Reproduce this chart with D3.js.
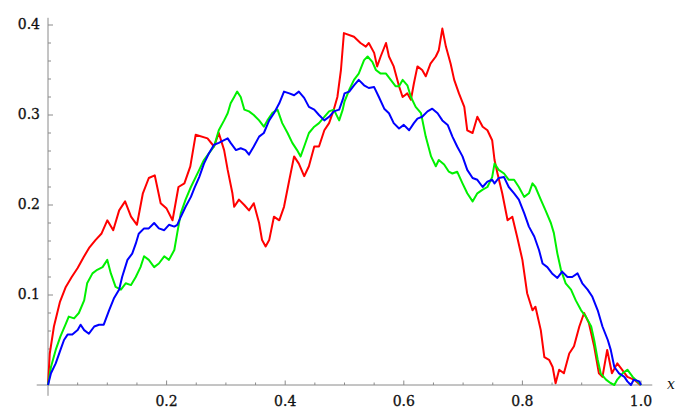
<!DOCTYPE html>
<meta charset="utf-8">
<body style="margin:0;background:#fff">
<svg width="677" height="409"></svg>
<script src="https://cdn.jsdelivr.net/npm/d3@7"></script>
<script>
// three paths, [x, y]
const redPath = [[0,0],[0.003,0.035],[0.01,0.065],[0.02,0.092],[0.03,0.109],[0.04,0.12],[0.05,0.13],[0.06,0.142],[0.07,0.153],[0.08,0.161],[0.09,0.168],[0.1,0.183],[0.11,0.172],[0.12,0.194],[0.13,0.204],[0.14,0.187],[0.15,0.178],[0.16,0.213],[0.17,0.23],[0.18,0.233],[0.19,0.202],[0.2,0.196],[0.21,0.183],[0.22,0.22],[0.23,0.224],[0.24,0.243],[0.249,0.278],[0.269,0.274],[0.28,0.265],[0.288,0.28],[0.297,0.261],[0.303,0.239],[0.311,0.213],[0.314,0.198],[0.322,0.206],[0.331,0.2],[0.339,0.194],[0.347,0.202],[0.356,0.18],[0.361,0.161],[0.367,0.154],[0.373,0.161],[0.381,0.187],[0.39,0.183],[0.398,0.198],[0.407,0.228],[0.415,0.254],[0.423,0.246],[0.432,0.232],[0.44,0.243],[0.449,0.265],[0.457,0.265],[0.466,0.283],[0.474,0.291],[0.482,0.306],[0.488,0.32],[0.494,0.35],[0.499,0.391],[0.516,0.387],[0.527,0.38],[0.536,0.376],[0.541,0.38],[0.55,0.369],[0.555,0.354],[0.561,0.365],[0.57,0.38],[0.575,0.365],[0.583,0.354],[0.592,0.332],[0.598,0.32],[0.606,0.324],[0.612,0.317],[0.617,0.335],[0.623,0.354],[0.631,0.35],[0.637,0.343],[0.645,0.357],[0.654,0.365],[0.659,0.372],[0.665,0.396],[0.671,0.376],[0.679,0.357],[0.685,0.339],[0.693,0.324],[0.702,0.309],[0.707,0.283],[0.716,0.28],[0.724,0.298],[0.733,0.287],[0.741,0.283],[0.749,0.272],[0.753,0.25],[0.758,0.235],[0.766,0.213],[0.775,0.183],[0.783,0.187],[0.791,0.165],[0.8,0.139],[0.808,0.102],[0.817,0.083],[0.822,0.087],[0.831,0.061],[0.837,0.031],[0.845,0.028],[0.851,0.02],[0.856,0.002],[0.862,0.017],[0.87,0.013],[0.879,0.035],[0.887,0.043],[0.896,0.065],[0.904,0.08],[0.912,0.069],[0.921,0.043],[0.929,0.013],[0.935,0.009],[0.943,0.039],[0.951,0.013],[0.96,0.024],[0.968,0.017],[0.977,0.009],[0.988,0.006],[0.999,0]]

const greenPath = [[0,0],[0.005,0.02],[0.013,0.039],[0.021,0.054],[0.03,0.068],[0.035,0.076],[0.044,0.074],[0.052,0.08],[0.061,0.094],[0.066,0.113],[0.075,0.124],[0.083,0.128],[0.092,0.131],[0.1,0.139],[0.106,0.124],[0.114,0.109],[0.123,0.106],[0.131,0.113],[0.14,0.111],[0.148,0.12],[0.156,0.131],[0.162,0.143],[0.17,0.139],[0.179,0.131],[0.187,0.135],[0.196,0.143],[0.204,0.139],[0.213,0.15],[0.218,0.169],[0.224,0.191],[0.232,0.206],[0.241,0.22],[0.255,0.239],[0.263,0.25],[0.271,0.257],[0.28,0.265],[0.288,0.283],[0.297,0.294],[0.303,0.302],[0.308,0.313],[0.314,0.32],[0.319,0.326],[0.325,0.32],[0.331,0.306],[0.339,0.304],[0.347,0.3],[0.356,0.294],[0.364,0.287],[0.37,0.294],[0.378,0.302],[0.387,0.306],[0.395,0.291],[0.404,0.28],[0.412,0.269],[0.42,0.261],[0.426,0.254],[0.432,0.265],[0.44,0.28],[0.449,0.287],[0.457,0.291],[0.466,0.298],[0.474,0.304],[0.482,0.306],[0.491,0.294],[0.497,0.306],[0.5,0.315],[0.508,0.328],[0.516,0.339],[0.524,0.346],[0.533,0.361],[0.539,0.365],[0.547,0.359],[0.553,0.35],[0.561,0.346],[0.57,0.346],[0.578,0.339],[0.586,0.332],[0.592,0.332],[0.598,0.339],[0.606,0.333],[0.612,0.32],[0.62,0.309],[0.629,0.302],[0.637,0.276],[0.646,0.254],[0.654,0.243],[0.659,0.25],[0.668,0.245],[0.676,0.237],[0.682,0.235],[0.69,0.237],[0.699,0.224],[0.707,0.213],[0.716,0.204],[0.724,0.213],[0.733,0.217],[0.741,0.22],[0.749,0.231],[0.753,0.246],[0.76,0.239],[0.769,0.235],[0.777,0.228],[0.786,0.228],[0.794,0.22],[0.803,0.209],[0.811,0.213],[0.817,0.224],[0.822,0.22],[0.831,0.206],[0.839,0.194],[0.848,0.18],[0.853,0.169],[0.859,0.146],[0.865,0.128],[0.873,0.113],[0.882,0.106],[0.89,0.094],[0.899,0.083],[0.907,0.076],[0.916,0.065],[0.921,0.05],[0.927,0.028],[0.932,0.013],[0.941,0.006],[0.949,0.002],[0.955,0],[0.96,0.006],[0.969,0.013],[0.977,0.017],[0.986,0.009],[0.994,0.004],[1,0]]

const bluePath = [[0,0],[0.005,0.013],[0.013,0.024],[0.021,0.039],[0.027,0.05],[0.033,0.056],[0.041,0.056],[0.05,0.061],[0.055,0.067],[0.061,0.061],[0.069,0.057],[0.078,0.065],[0.086,0.067],[0.094,0.067],[0.103,0.083],[0.111,0.096],[0.12,0.106],[0.125,0.12],[0.134,0.139],[0.142,0.146],[0.148,0.157],[0.153,0.168],[0.162,0.174],[0.17,0.174],[0.179,0.18],[0.187,0.174],[0.196,0.172],[0.204,0.178],[0.213,0.176],[0.218,0.178],[0.224,0.187],[0.232,0.198],[0.241,0.209],[0.247,0.219],[0.255,0.231],[0.263,0.246],[0.271,0.257],[0.28,0.267],[0.288,0.269],[0.297,0.272],[0.303,0.274],[0.308,0.269],[0.317,0.261],[0.325,0.263],[0.333,0.261],[0.339,0.256],[0.347,0.265],[0.356,0.276],[0.364,0.28],[0.373,0.294],[0.381,0.302],[0.39,0.313],[0.398,0.326],[0.407,0.324],[0.415,0.322],[0.423,0.326],[0.432,0.319],[0.44,0.309],[0.449,0.306],[0.457,0.3],[0.466,0.294],[0.474,0.298],[0.482,0.304],[0.491,0.306],[0.497,0.317],[0.5,0.324],[0.508,0.326],[0.516,0.333],[0.524,0.339],[0.533,0.333],[0.541,0.33],[0.55,0.331],[0.558,0.32],[0.567,0.307],[0.575,0.302],[0.583,0.291],[0.592,0.285],[0.6,0.289],[0.609,0.283],[0.617,0.291],[0.623,0.296],[0.631,0.298],[0.64,0.304],[0.648,0.307],[0.657,0.302],[0.665,0.294],[0.674,0.289],[0.682,0.276],[0.69,0.265],[0.699,0.254],[0.707,0.239],[0.716,0.23],[0.724,0.228],[0.733,0.22],[0.741,0.226],[0.749,0.228],[0.753,0.224],[0.76,0.23],[0.769,0.231],[0.777,0.22],[0.786,0.213],[0.794,0.206],[0.803,0.191],[0.811,0.176],[0.82,0.165],[0.828,0.15],[0.834,0.135],[0.842,0.131],[0.85,0.124],[0.859,0.119],[0.867,0.126],[0.876,0.12],[0.884,0.12],[0.893,0.124],[0.901,0.113],[0.91,0.106],[0.918,0.098],[0.927,0.083],[0.935,0.065],[0.944,0.05],[0.949,0.039],[0.955,0.02],[0.963,0.013],[0.972,0.009],[0.977,0.004],[0.983,0],[0.988,0.006],[0.997,0.004],[1,0]]

const seriesColors = ["#ff0000", "#00f000", "#0000ff"]
const xMajor = [0.2, 0.4, 0.6, 0.8, 1.0]
const yMajor = [0.1, 0.2, 0.3, 0.4]

const svg = d3.select("svg")
const x = d3.scaleLinear().domain([0, 1]).range([48, 641])
const y = d3.scaleLinear().domain([0, 0.4]).range([385, 25])
const axisColor = "#8a8a8a"
const labelFont = "'DejaVu Serif', serif"

// axes cross at the origin, padded a little like Mathematica
svg.append("line").attr("x1", x(-0.019)).attr("x2", x(1.019)).attr("y1", y(0)).attr("y2", y(0))
  .attr("stroke", axisColor).attr("stroke-width", 1)
svg.append("line").attr("x1", x(0)).attr("x2", x(0)).attr("y1", y(-0.012)).attr("y2", y(0.408))
  .attr("stroke", axisColor).attr("stroke-width", 1)

const xMinor = d3.range(1, 21).map(i => i * 0.05)
svg.selectAll(".xt").data(xMinor).enter().append("line")
  .attr("x1", d => x(d)).attr("x2", d => x(d))
  .attr("y1", y(0)).attr("y2", (d, i) => y(0) - ((i + 1) % 4 == 0 ? 4.5 : 2.5))
  .attr("stroke", axisColor)

const yMinor = d3.range(1, 21).map(i => i * 0.02)
svg.selectAll(".yt").data(yMinor).enter().append("line")
  .attr("x1", x(0)).attr("x2", (d, i) => x(0) + ((i + 1) % 5 == 0 ? 5 : 3))
  .attr("y1", d => y(d)).attr("y2", d => y(d))
  .attr("stroke", axisColor)

svg.selectAll(".xl").data(xMajor).enter().append("text")
  .attr("x", d => x(d)).attr("y", y(0) + 21)
  .attr("text-anchor", "middle")
  .attr("font-family", labelFont).attr("font-size", 14)
  .attr("fill", "#111").attr("stroke", "#111").attr("stroke-width", 0.3)
  .text(d => d3.format(".1f")(d))

svg.selectAll(".yl").data(yMajor).enter().append("text")
  .attr("x", x(0) - 8).attr("y", d => y(d) + 4)
  .attr("text-anchor", "end")
  .attr("font-family", labelFont).attr("font-size", 14)
  .attr("fill", "#111").attr("stroke", "#111").attr("stroke-width", 0.3)
  .text(d => d3.format(".1f")(d))

svg.append("text").attr("x", 667).attr("y", 389)
  .attr("font-family", labelFont).attr("font-size", 14).attr("font-style", "italic")
  .attr("fill", "#111").text("x")

const line = d3.line().x(d => x(d[0])).y(d => y(d[1]))
const paths = [redPath, greenPath, bluePath]
svg.selectAll(".path").data(paths).enter().append("path")
  .attr("d", line)
  .attr("fill", "none")
  .attr("stroke", (d, i) => seriesColors[i])
  .attr("stroke-width", 2)
  .attr("stroke-linejoin", "round")
</script>
</body>
